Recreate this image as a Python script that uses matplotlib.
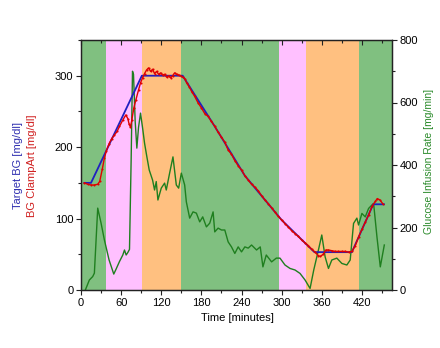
import numpy as np
import matplotlib.pyplot as plt
from matplotlib.ticker import MultipleLocator, NullFormatter

plt.rcParams['font.family'] = ['Liberation Sans', 'DejaVu Sans']

# fases del clamp (min): inicio, fin, color
fases_ini = [0, 37, 91, 150, 296, 336, 416]
fases_fin = [37, 91, 150, 296, 336, 416, 465]
fases_col = ['#80c080', '#ffc0ff', '#ffc080', '#80c080', '#ffc0ff', '#ffc080', '#80c080']

# BG objetivo [mg/dl]
t_target = [5, 15, 91, 152, 200, 245, 300, 349, 405, 437, 453]
bg_target = [150, 150, 300, 300, 229, 160, 98, 53, 53, 120, 120]

# BG medida ClampArt [mg/dl]
t_bg = [5, 10, 15, 20, 25, 28, 32, 35, 38, 42, 46, 50, 54, 57.5, 62.5, 67, 70, 72,
        74, 76, 79, 82, 86, 89, 92, 95, 98, 101, 104, 107, 110, 113, 116, 119, 122,
        125, 128, 131, 134, 137, 140, 143, 146, 149, 152, 155, 158, 162, 166, 170,
        175, 180, 185, 190, 195, 200, 205, 210, 215, 220, 225, 230, 235, 240, 245,
        250, 255, 260, 265, 270, 275, 280, 285, 290, 295, 300, 305, 310, 315, 320,
        325, 330, 335, 340, 345, 350, 355, 358, 362, 366, 370, 375, 380, 385, 390,
        395, 400, 405, 410, 415, 420, 425, 430, 435, 440, 443, 447, 451]
bg_clamp = [150, 148, 147, 147, 148, 152, 170, 185, 195, 205, 212, 217, 222, 229, 238,
            245, 240, 232, 228, 238, 255, 266, 280, 290, 297, 303, 308, 311, 306, 309,
            303, 306, 302, 304, 301, 302, 298, 300, 297, 300, 304, 302, 301, 300, 298,
            296, 290, 284, 277, 271, 262, 255, 247, 243, 236, 229, 221, 214, 207, 196,
            190, 181, 174, 168, 160, 154, 148, 144, 139, 132, 126, 121, 115, 109, 103,
            98, 93, 88, 83, 79, 75, 70, 66, 62, 57, 53, 48, 47, 50, 56, 56, 55, 54, 54,
            54, 54, 53, 54, 62, 74, 85, 95, 105, 117, 124, 128, 126, 121]

# tasa de infusion de glucosa [mg/min]
t_gir = [6.5, 12.5, 17.5, 20, 25, 30, 35, 42, 49, 52.5, 57.5, 62.5, 65, 67.5, 70,
         72.5, 75, 77, 78.5, 81, 83.5, 86, 89, 92.5, 95, 98.5, 102, 107, 110, 112.5,
         115, 120, 125, 127.5, 132.5, 137.5, 142.5, 146, 150, 155, 157.5, 162.5,
         167.5, 172.5, 177.5, 182, 187.5, 192.5, 197.5, 200, 205, 210, 215, 220, 225,
         230, 235, 240, 245, 250, 255, 262.5, 268, 272, 277, 285, 292, 297.5, 305,
         312.5, 320, 327.5, 335, 342.5, 348, 355, 360, 365, 370, 375, 382.5, 390,
         397.5, 402.5, 407.5, 412.5, 415, 420, 425, 430, 435, 437.5, 442.5, 447.5,
         453.5]
gir = [0, 32, 43, 54, 262, 214, 160, 96, 51, 67, 91, 112, 128, 112, 120,
       130, 420, 700, 690, 540, 454, 520, 566, 512, 470, 426, 384, 352, 320, 347,
       288, 326, 342, 320, 374, 426, 336, 326, 374, 336, 282, 230,
       250, 246, 218, 234, 202, 214, 250, 186, 198, 192, 192, 154, 138,
       117, 138, 122, 138, 134, 144, 128, 138, 74, 112, 90, 102, 102, 80,
       69, 64, 53, 32, 5, 64, 128, 176, 106, 69, 96, 102, 85,
       80, 96, 213, 230, 208, 245, 234, 261, 272, 277, 170, 74,
       144]

fig = plt.figure(figsize=(4.4, 3.48), dpi=100)
ax1 = fig.add_axes([81/440, 58/348, 311/440, 250/348])
ax2 = ax1.twinx()
ax1.set_zorder(ax2.get_zorder() + 1)
ax1.patch.set_visible(False)

for a, b, c in zip(fases_ini, fases_fin, fases_col):
    ax2.axvspan(a, b, color=c, lw=0, zorder=0)

ax2.plot(t_gir, gir, color='#1f7f1f', lw=1.0, zorder=2)
ax1.plot(t_target, bg_target, color='#2020c0', lw=1.3, zorder=3)
ax1.plot(t_bg, bg_clamp, color='#e00000', lw=1.0, marker='o', ms=1.5, mew=0, zorder=4)

ax1.set_xlim(0, 465)
ax1.set_ylim(0, 350)
ax2.set_ylim(0, 800)

ax1.xaxis.set_major_locator(MultipleLocator(60))
ax1.xaxis.set_minor_locator(MultipleLocator(30))
ax1.yaxis.set_major_locator(MultipleLocator(100))
ax1.yaxis.set_minor_locator(MultipleLocator(50))
ax2.yaxis.set_major_locator(MultipleLocator(200))
ax2.yaxis.set_minor_locator(MultipleLocator(100))

# eje superior espejo, ticks hacia adentro
sec = ax1.secondary_xaxis('top')
sec.xaxis.set_major_locator(MultipleLocator(60))
sec.xaxis.set_minor_locator(MultipleLocator(30))
sec.xaxis.set_major_formatter(NullFormatter())
sec.tick_params(which='both', direction='in', width=0.8, color='#222222')
sec.tick_params(which='major', length=3.5)
sec.tick_params(which='minor', length=2)
sec.spines['top'].set_visible(False)

for a in (ax1, ax2):
    a.tick_params(which='both', labelsize=8, width=0.8, color='#222222', pad=2)
    a.tick_params(which='major', length=3.5)
    a.tick_params(which='minor', length=2)
    for s in a.spines.values():
        s.set_linewidth(0.9)
        s.set_color('#222222')

fig.text(18/440, 0.523, 'Target BG [mg/dl]', color='#3030b0', rotation=90,
         ha='center', va='center', fontsize=8)
fig.text(32/440, 0.523, 'BG ClampArt [mg/dl]', color='#d02020', rotation=90,
         ha='center', va='center', fontsize=8)
fig.text(429/440, 0.537, 'Glucose Infusion Rate [mg/min]', color='#2a8a2a',
         rotation=90, ha='center', va='center', fontsize=7.5)
fig.text(237/440, 30/348, 'Time [minutes]', ha='center', va='center', fontsize=8)

plt.savefig('out.png', dpi=100)
